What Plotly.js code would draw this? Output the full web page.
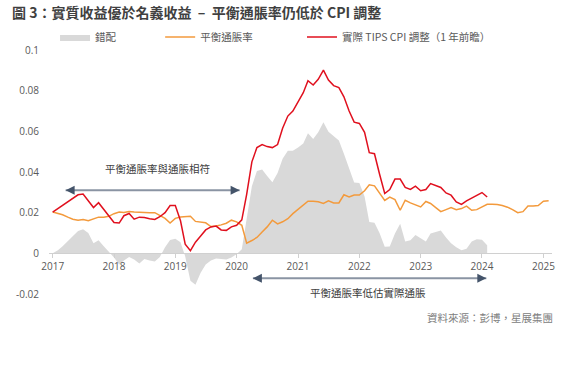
<!DOCTYPE html>
<html>
<head>
<meta charset="utf-8">
<script src="https://cdn.plot.ly/plotly-3.0.1.min.js"></script>
<style>html,body{margin:0;padding:0;background:#fff;}#chart{width:571px;height:371px;}</style>
</head>
<body>
<div id="chart"></div>
<script>
// Monthly observations starting January 2017
const startYear = 2017;
const seriesNames = ['錯配', '平衡通脹率', '實際 TIPS CPI 調整（1 年前瞻）'];

// Mismatch (grey area), Jan 2017 - Feb 2024
const mismatch = [
  0.0, 0.0015, 0.0035, 0.006, 0.0085, 0.011, 0.0118, 0.010, 0.005, 0.0064, 0.0035, 0.001,
  -0.002, -0.0055, -0.0035, -0.0018, -0.003, -0.005, -0.0028, -0.0035, -0.004, -0.0018, 0.003, 0.0065,
  0.0072, 0.0055, -0.0015, -0.0135, -0.0155, -0.0095, -0.0055, -0.0035, -0.0026, -0.0028, -0.003, -0.002,
  -0.0005, 0.002, 0.018, 0.033, 0.0405, 0.0412, 0.038, 0.035, 0.0395, 0.0465, 0.0505, 0.0504,
  0.052, 0.054, 0.059, 0.0562, 0.0595, 0.0645, 0.0598, 0.0575, 0.0555, 0.049, 0.042, 0.0348,
  0.0346, 0.028, 0.0154, 0.015, 0.010, 0.0032, 0.0034, 0.0097, 0.0146, 0.0058, 0.0064, 0.009,
  0.0074, 0.0058, 0.0097, 0.0105, 0.0112, 0.0078, 0.005, 0.003, 0.0015, 0.0022, 0.0058, 0.0069,
  0.0067, 0.004
];

// Breakeven inflation (orange), Jan 2017 - Feb 2025
const breakeven = [
  0.0203, 0.0197, 0.019, 0.0178, 0.0168, 0.0163, 0.0166, 0.016, 0.017, 0.0178, 0.0178, 0.0182,
  0.0195, 0.0203, 0.0201, 0.0206, 0.0203, 0.0201, 0.020, 0.0199, 0.020, 0.0188, 0.0172, 0.0149,
  0.0172, 0.0179, 0.0182, 0.0182, 0.0157, 0.0152, 0.015, 0.0132, 0.0134, 0.014, 0.0148, 0.0163,
  0.0155, 0.0138, 0.005, 0.0063, 0.0078, 0.0105, 0.013, 0.0163, 0.0145, 0.0155, 0.017, 0.0195,
  0.0215, 0.0235, 0.0256, 0.0256, 0.0254, 0.0245, 0.0258, 0.0248, 0.0248, 0.0288, 0.0277, 0.0287,
  0.0287, 0.0308, 0.0337, 0.0332, 0.0294, 0.026, 0.0277, 0.0264, 0.0212, 0.0261, 0.0248, 0.024,
  0.0228, 0.0255, 0.0245, 0.0225, 0.0205, 0.0215, 0.0225, 0.0215, 0.022, 0.0232, 0.0212, 0.0215,
  0.0228, 0.0241, 0.0241, 0.024, 0.0235, 0.0227, 0.0215, 0.020, 0.0205, 0.0233, 0.0233, 0.0235,
  0.0256, 0.0258
];

// Actual TIPS CPI adjustment, 1 year forward (red), Jan 2017 - Feb 2024
const tipsCpi = [
  0.0203, 0.022, 0.0238, 0.0252, 0.0272, 0.0288, 0.0292, 0.026, 0.0225, 0.0249, 0.0215, 0.018,
  0.0152, 0.0149, 0.0185, 0.0196, 0.0168, 0.0178, 0.0176, 0.017, 0.0167, 0.018, 0.020, 0.0235,
  0.0235, 0.016, 0.0045, 0.0013, 0.0055, 0.0085, 0.0115, 0.013, 0.0134, 0.0115, 0.0113, 0.013,
  0.0138, 0.0165, 0.029, 0.045, 0.052, 0.0535, 0.0525, 0.052, 0.0535, 0.0615, 0.0675, 0.070,
  0.0745, 0.079, 0.0849, 0.0828, 0.0856, 0.0901, 0.0852, 0.0825, 0.0815, 0.077, 0.070, 0.0645,
  0.0639, 0.0595, 0.0495, 0.049, 0.039, 0.0294, 0.0314, 0.0365, 0.0365, 0.0324, 0.0314, 0.033,
  0.0308, 0.0314, 0.0343, 0.0332, 0.0324, 0.0297, 0.0286, 0.0253, 0.0241, 0.0258, 0.0272, 0.0286,
  0.0299, 0.0277
];

const yTickVals = [-0.02, 0, 0.02, 0.04, 0.06, 0.08, 0.1];
const yTickText = ['-0.02', '0', '0.02', '0.04', '0.06', '0.08', '0.1'];

function monthDates(n) {
  const out = [];
  for (let i = 0; i < n; i++) {
    const y = startYear + Math.floor(i / 12);
    const m = (i % 12) + 1;
    out.push(y + '-' + (m < 10 ? '0' + m : m) + '-01');
  }
  return out;
}

const FONT = '"Open Sans", "Noto Sans CJK TC", sans-serif';
const CJK = '"Noto Sans CJK TC", "Open Sans", sans-serif';
const YMIN = -0.02, YMAX = 0.1;

const traces = [
  {
    x: monthDates(mismatch.length), y: mismatch, name: seriesNames[0],
    type: 'scatter', mode: 'lines', fill: 'tozeroy', fillcolor: '#d9d9d9',
    line: {width: 0, color: '#d9d9d9'}, legend: 'legend', hoverinfo: 'skip'
  },
  {
    x: monthDates(breakeven.length), y: breakeven, name: seriesNames[1],
    type: 'scatter', mode: 'lines', line: {width: 1.5, color: '#f39a3c'}, legend: 'legend2'
  },
  {
    x: monthDates(tipsCpi.length), y: tipsCpi, name: seriesNames[2],
    type: 'scatter', mode: 'lines', line: {width: 1.5, color: '#e0101e'}, legend: 'legend3'
  }
];

const legendBase = {
  orientation: 'h', yanchor: 'middle', y: 1.053, xanchor: 'left',
  font: {family: CJK, size: 10.5, color: '#595959'}, bgcolor: 'rgba(0,0,0,0)',
  borderwidth: 0
};

const arrowLine = '#8a94a3';
const arrowHead = '#44546a';

function headShape(x, y, dir) {
  // triangle of fixed pixel size anchored at the arrow tip
  const p = dir > 0 ? 'M0,0 L-9,-4.5 L-9,4.5 Z' : 'M0,0 L9,-4.5 L9,4.5 Z';
  return {
    type: 'path', xref: 'x', yref: 'y', xsizemode: 'pixel', ysizemode: 'pixel',
    xanchor: x, yanchor: y, path: p, fillcolor: arrowHead, line: {width: 0}
  };
}

const arrow1 = {x0: '2017-03-19', x1: '2020-01-19', y: 0.031};
const arrow2 = {x0: '2020-04-07', x1: '2024-01-27', y: -0.0123};

const layout = {
  width: 571, height: 371,
  margin: {l: 49, r: 19, t: 50, b: 77},
  paper_bgcolor: '#ffffff', plot_bgcolor: '#ffffff',
  font: {family: FONT, color: '#595959', size: 10},
  title: {
    text: '<b>圖 3：實質收益優於名義收益\u00a0 –\u00a0 平衡通脹率仍低於 CPI 調整</b>',
    font: {family: CJK, size: 14, color: '#404040'},
    xref: 'container', yref: 'container', x: 12 / 571, xanchor: 'left',
    y: 1 - 13 / 371, yanchor: 'middle'
  },
  showlegend: true,
  legend: Object.assign({}, legendBase, {x: 0.012}),
  legend2: Object.assign({}, legendBase, {x: 0.221}),
  legend3: Object.assign({}, legendBase, {x: 0.503}),
  xaxis: {
    type: 'date', range: ['2016-12-10', '2025-02-21'],
    anchor: 'free', position: (0 - YMIN) / (YMAX - YMIN),
    showline: true, linecolor: '#d0d0d0', linewidth: 1,
    ticks: 'outside', ticklen: 4, tickcolor: '#d0d0d0',
    dtick: 'M12', tick0: '2017-01-01', tickformat: '%Y',
    showgrid: false, zeroline: false,
    tickfont: {family: FONT, size: 10, color: '#595959'}
  },
  yaxis: {
    range: [YMIN, YMAX], tickvals: yTickVals, ticktext: yTickText,
    showgrid: false, zeroline: false, showline: false, ticks: '',
    ticklabelstandoff: 9,
    tickfont: {family: FONT, size: 10, color: '#595959'}
  },
  shapes: [
    {type: 'line', xref: 'x', yref: 'y', x0: arrow1.x0, x1: arrow1.x1, y0: arrow1.y, y1: arrow1.y,
     line: {color: arrowLine, width: 2}},
    headShape(arrow1.x0, arrow1.y, -1),
    headShape(arrow1.x1, arrow1.y, 1),
    {type: 'line', xref: 'x', yref: 'y', x0: arrow2.x0, x1: arrow2.x1, y0: arrow2.y, y1: arrow2.y,
     line: {color: arrowLine, width: 2}},
    headShape(arrow2.x0, arrow2.y, -1),
    headShape(arrow2.x1, arrow2.y, 1)
  ],
  annotations: [
    {text: '平衡通脹率與通脹相符', xref: 'x', yref: 'y', x: '2018-09-15', y: 0.0415,
     showarrow: false, font: {family: CJK, size: 10.5, color: '#404040'}},
    {text: '平衡通脹率低估實際通脹', xref: 'x', yref: 'y', x: '2022-02-20', y: -0.0192,
     showarrow: false, font: {family: CJK, size: 10.5, color: '#404040'}},
    {text: '資料來源：彭博，星展集團', xref: 'paper', yref: 'paper', x: (555 - 49) / 503, xanchor: 'right',
     y: -(317 - 294) / 244, yanchor: 'middle', showarrow: false,
     font: {family: CJK, size: 10.5, color: '#808080'}}
  ]
};

Plotly.newPlot('chart', traces, layout, {displayModeBar: false, staticPlot: true});
</script>
</body>
</html>
